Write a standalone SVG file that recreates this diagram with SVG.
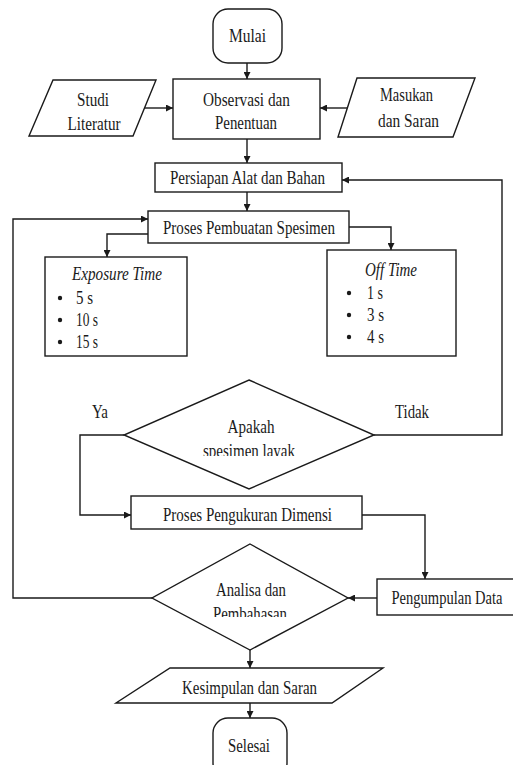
<svg xmlns="http://www.w3.org/2000/svg" width="513" height="765" viewBox="0 0 513 765" font-family="'Liberation Serif', 'DejaVu Serif', serif">
<defs>
<style>
.s{fill:#fff;stroke:#1a1a1a;stroke-width:1.4}
.c{fill:none;stroke:#1a1a1a;stroke-width:1.4}
text{font-family:'Liberation Serif','DejaVu Serif',serif;font-size:19px;fill:#1a1a1a;text-anchor:middle}
.l{text-anchor:start}
.i{font-style:italic}
</style>
<marker id="a" viewBox="0 0 10 10" refX="10" refY="5" markerWidth="7" markerHeight="7" markerUnits="userSpaceOnUse" orient="auto">
<path d="M0,0 L10,5 L0,10 Z" fill="#1a1a1a"/>
</marker>
<clipPath id="cl1"><rect x="150" y="380" width="200" height="76"/></clipPath>
<clipPath id="cl2"><rect x="150" y="544" width="200" height="73"/></clipPath>
</defs>
<rect width="513" height="765" fill="#fff"/>
<g id="connectors">
<path class="c" d="M247,63 V79" marker-end="url(#a)"/>
<path class="c" d="M144,108 H173" marker-end="url(#a)"/>
<path class="c" d="M347,108 H320" marker-end="url(#a)"/>
<path class="c" d="M247,139 V163" marker-end="url(#a)"/>
<path class="c" d="M247,192 V211" marker-end="url(#a)"/>
<path class="c" d="M148,234 H107 V257" marker-end="url(#a)"/>
<path class="c" d="M349,227 H391 V250" marker-end="url(#a)"/>
<path class="c" d="M374,435 H502 V180 H342" marker-end="url(#a)"/>
<path class="c" d="M124,435 H80 V515 H131" marker-end="url(#a)"/>
<path class="c" d="M362,515 H425 V579" marker-end="url(#a)"/>
<path class="c" d="M377,598 H348" marker-end="url(#a)"/>
<path class="c" d="M152,598 H13 V219 H148" marker-end="url(#a)"/>
<path class="c" d="M250,650 V668" marker-end="url(#a)"/>
<path class="c" d="M250,703 V718" marker-end="url(#a)"/>
</g>
<g id="mulai">
<rect class="s" x="213" y="9" width="69" height="54" rx="15"/>
<text x="247.5" y="42" textLength="37" lengthAdjust="spacingAndGlyphs">Mulai</text>
</g>
<g id="studi">
<polygon class="s" points="53,80 156,80 133,136 29,136"/>
<text x="93" y="106" textLength="32" lengthAdjust="spacingAndGlyphs">Studi</text>
<text x="94" y="130" textLength="53" lengthAdjust="spacingAndGlyphs">Literatur</text>
</g>
<g id="observasi">
<rect class="s" x="173" y="79" width="147" height="60"/>
<text x="246.5" y="106" textLength="87" lengthAdjust="spacingAndGlyphs">Observasi dan</text>
<text x="246" y="129" textLength="62" lengthAdjust="spacingAndGlyphs">Penentuan</text>
</g>
<g id="masukan">
<polygon class="s" points="357,78 475,78 453,137 338,137"/>
<text x="406.5" y="101" textLength="53" lengthAdjust="spacingAndGlyphs">Masukan</text>
<text x="408.5" y="127" textLength="61" lengthAdjust="spacingAndGlyphs">dan Saran</text>
</g>
<g id="persiapan">
<rect class="s" x="155" y="163" width="187" height="29"/>
<text x="247.5" y="184" textLength="155" lengthAdjust="spacingAndGlyphs">Persiapan Alat dan Bahan</text>
</g>
<g id="pembuatan">
<rect class="s" x="148" y="211" width="201" height="32"/>
<text x="249" y="234" textLength="172" lengthAdjust="spacingAndGlyphs">Proses Pembuatan Spesimen</text>
</g>
<g id="exposure">
<rect class="s" x="45" y="257" width="142" height="99"/>
<text class="i" x="117" y="280" textLength="90" lengthAdjust="spacingAndGlyphs">Exposure Time</text>
<circle cx="60" cy="298" r="2.2" fill="#1a1a1a"/>
<circle cx="60" cy="320" r="2.2" fill="#1a1a1a"/>
<circle cx="60" cy="342" r="2.2" fill="#1a1a1a"/>
<text class="l" x="76" y="304" textLength="17" lengthAdjust="spacingAndGlyphs">5 s</text>
<text class="l" x="76" y="326" textLength="22" lengthAdjust="spacingAndGlyphs">10 s</text>
<text class="l" x="76" y="348" textLength="22" lengthAdjust="spacingAndGlyphs">15 s</text>
</g>
<g id="offtime">
<rect class="s" x="327" y="250" width="129" height="106"/>
<text class="i" x="391" y="276" textLength="52" lengthAdjust="spacingAndGlyphs">Off Time</text>
<circle cx="349" cy="293" r="2.2" fill="#1a1a1a"/>
<circle cx="349" cy="315" r="2.2" fill="#1a1a1a"/>
<circle cx="349" cy="337" r="2.2" fill="#1a1a1a"/>
<text class="l" x="367" y="299" textLength="16" lengthAdjust="spacingAndGlyphs">1 s</text>
<text class="l" x="367" y="321" textLength="17" lengthAdjust="spacingAndGlyphs">3 s</text>
<text class="l" x="367" y="343" textLength="17" lengthAdjust="spacingAndGlyphs">4 s</text>
</g>
<g id="layak">
<polygon class="s" points="249,380 374,435 249,489 124,435"/>
<text x="251" y="433" textLength="47" lengthAdjust="spacingAndGlyphs">Apakah</text>
<text x="249" y="457" textLength="92" lengthAdjust="spacingAndGlyphs" clip-path="url(#cl1)">spesimen layak</text>
</g>
<g id="labels">
<text x="100" y="418" textLength="16" lengthAdjust="spacingAndGlyphs">Ya</text>
<text x="412" y="418" textLength="34" lengthAdjust="spacingAndGlyphs">Tidak</text>
</g>
<g id="pengukuran">
<rect class="s" x="131" y="496" width="231" height="33"/>
<text x="247.5" y="521" textLength="169" lengthAdjust="spacingAndGlyphs">Proses Pengukuran Dimensi</text>
</g>
<g id="pengumpulan">
<rect class="s" x="377" y="579" width="140" height="36"/>
<text x="447" y="604" textLength="111" lengthAdjust="spacingAndGlyphs">Pengumpulan Data</text>
</g>
<g id="analisa">
<polygon class="s" points="250,544 348,598 250,650 152,598"/>
<text x="251" y="596" textLength="70" lengthAdjust="spacingAndGlyphs">Analisa dan</text>
<text x="250" y="620" textLength="74" lengthAdjust="spacingAndGlyphs" clip-path="url(#cl2)">Pembahasan</text>
</g>
<g id="kesimpulan">
<polygon class="s" points="170,668 383,668 332,703 116,703"/>
<text x="249.5" y="694" textLength="135" lengthAdjust="spacingAndGlyphs">Kesimpulan dan Saran</text>
</g>
<g id="selesai">
<rect class="s" x="213" y="718" width="74" height="60" rx="15"/>
<text x="249" y="752" textLength="42" lengthAdjust="spacingAndGlyphs">Selesai</text>
</g>
</svg>
